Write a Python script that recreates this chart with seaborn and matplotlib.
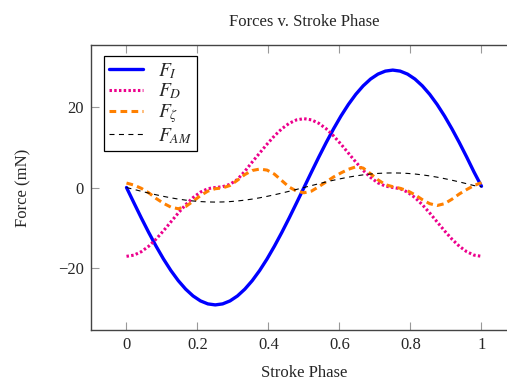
import numpy as np
import pandas as pd
import matplotlib
matplotlib.use("Agg")
import matplotlib.pyplot as plt
import seaborn as sns

# ---- data ----
phase = np.linspace(0, 1, 49)

F_I = [0, -3.78, -7.51, -11.10, -14.50, -17.66, -20.51, -23.01, -25.11, -26.79,
       -28.01, -28.75, -29.00, -28.75, -28.01, -26.79, -25.11, -23.01, -20.51,
       -17.66, -14.50, -11.10, -7.51, -3.78, 0,
       3.78, 7.51, 11.10, 14.50, 17.66, 20.51, 23.01, 25.11, 26.79, 28.01, 28.75,
       29.00, 28.75, 28.01, 26.79, 25.11, 23.01, 20.51, 17.66, 14.50, 11.10,
       7.51, 3.78, 0.3]

F_D = [-17, -16.71, -15.86, -14.51, -12.75, -10.70, -8.50, -6.30, -4.25, -2.49,
       -1.14, -0.29, 0, 0.2, 0.8, 2.0, 4.0, 6.30, 8.50, 10.70, 12.75, 14.51,
       15.86, 16.71, 17,
       16.71, 15.86, 14.51, 12.75, 10.70, 8.50, 6.30, 4.25, 2.49, 1.14, 0.35, 0,
       -0.29, -1.14, -2.49, -4.25, -6.30, -8.50, -10.70, -12.75, -14.51, -15.86,
       -16.71, -17]

F_zeta = [1.1, 0.6, -0.2, -1.3, -2.7, -3.9, -4.85, -5.25, -4.7, -3.4, -2.0, -0.9,
          -0.3, -0.1, 0.5, 1.8, 3.2, 4.2, 4.55, 4.3, 3.3, 1.7, 0.1, -0.9, -1.3,
          -0.9, 0.2, 1.4, 2.6, 3.6, 4.5, 5.1, 4.8, 3.4, 1.9, 0.7, 0.2, -0.2, -0.8,
          -1.8, -3.0, -4.0, -4.45, -4.0, -2.9, -1.6, -0.5, 0.5, 1.2]

F_AM = [0, -0.47, -0.93, -1.38, -1.80, -2.19, -2.55, -2.86, -3.12, -3.33, -3.48,
        -3.57, -3.60, -3.57, -3.48, -3.33, -3.12, -2.86, -2.55, -2.19, -1.80,
        -1.38, -0.93, -0.47, 0,
        0.47, 0.93, 1.38, 1.80, 2.19, 2.55, 2.86, 3.12, 3.33, 3.48, 3.57, 3.60,
        3.57, 3.48, 3.33, 3.12, 2.86, 2.55, 2.19, 1.80, 1.38, 0.93, 0.47, 0.2]

series_labels = [r"$F_I$", r"$F_D$", r"$F_\zeta$", r"$F_{AM}$"]
x_ticks = [0, 0.2, 0.4, 0.6, 0.8, 1]
x_tick_labels = ["0", "0.2", "0.4", "0.6", "0.8", "1"]
y_ticks = [-20, 0, 20]
y_tick_labels = ["\u221220", "0", "20"]

# ---- style ----
sns.set_style("ticks")
plt.rcParams["font.family"] = ["Liberation Serif", "DejaVu Serif"]
plt.rcParams["mathtext.fontset"] = "stix"

FS = 12

fig = plt.figure(figsize=(5.07, 3.84), dpi=100)
ax = fig.add_axes([91/507, 1-330/384, 426/507, 285/384])

df = pd.DataFrame({"phase": phase, "F_I": F_I, "F_D": F_D,
                   "F_zeta": F_zeta, "F_AM": F_AM})

sns.lineplot(data=df, x="phase", y="F_I", ax=ax, color="#0000FF", lw=2.4,
             label=series_labels[0])
sns.lineplot(data=df, x="phase", y="F_D", ax=ax, color="#EC008C", lw=2.2,
             label=series_labels[1])
sns.lineplot(data=df, x="phase", y="F_zeta", ax=ax, color="#FF8000", lw=2.2,
             label=series_labels[2])
sns.lineplot(data=df, x="phase", y="F_AM", ax=ax, color="black", lw=0.8,
             label=series_labels[3])

lines = ax.get_lines()
lines[1].set_dashes([0.8, 0.75])
lines[2].set_dashes([2.2, 1.4])
lines[3].set_dashes([4.5, 4])

ax.set_xlim(-0.1, 1.1)
ax.set_ylim(-35.2, 35.2)
ax.set_xticks(x_ticks)
ax.set_xticklabels(x_tick_labels)
ax.set_yticks(y_ticks)
ax.set_yticklabels(y_tick_labels)

for s in ax.spines.values():
    s.set_visible(True)
    s.set_color("#444444")
    s.set_linewidth(1.0)

ax.tick_params(axis="both", direction="in", length=6, width=0.8,
               color="#999999", labelsize=FS, pad=5,
               top=True, right=True)

ax.set_title("Forces v. Stroke Phase", fontsize=FS, pad=14)
ax.set_xlabel("Stroke Phase", fontsize=FS, labelpad=9)
ax.set_ylabel("Force (mN)", fontsize=FS, labelpad=19)

leg = ax.legend(loc="upper left", bbox_to_anchor=(13/426, (330-56)/285),
                borderaxespad=0, fontsize=14, frameon=True, fancybox=False,
                framealpha=1, edgecolor="black", handlelength=1.75,
                labelspacing=0.05, borderpad=0.25, handletextpad=0.8)
leg.get_frame().set_linewidth(0.9)

fig.savefig("out.png", dpi=100)
